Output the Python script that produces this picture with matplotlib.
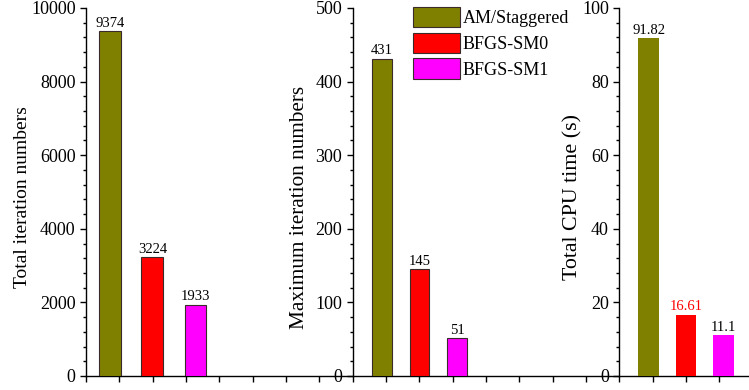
import matplotlib.pyplot as plt
import numpy as np
from matplotlib.patches import Patch
from matplotlib.ticker import MultipleLocator

plt.rcParams['font.family'] = ['Liberation Serif', 'DejaVu Serif']

methods = ['AM/Staggered', 'BFGS-SM0', 'BFGS-SM1']
colors = ['#808000', '#ff0000', '#ff00ff']

total_iters = [9374, 3224, 1933]
max_iters = [431, 145, 51]
cpu_time = [91.82, 16.61, 11.1]
cpu_labels = ['91.82', '16.61', '11.1']

W, H = 749, 390
fig = plt.figure(figsize=(W / 100, H / 100), dpi=100)

x0, y0, y1 = 86, 14, 382
rect = [x0 / W, y0 / H, 1 - x0 / W, (y1 - y0) / H]
xmax = (W - x0) / 33.33

# shared bottom axis with ticks every unit
base = fig.add_axes(rect)
base.set_xlim(0, xmax)
base.set_ylim(0, 1)
for s in ['top', 'right', 'left']:
    base.spines[s].set_visible(False)
base.spines['bottom'].set_linewidth(1.0)
base.set_xticks(np.arange(0, 20))
base.tick_params(axis='x', direction='out', length=4.5, width=1.0, labelbottom=False)
base.set_yticks([])
base.patch.set_alpha(0)


def panel(spine_x, centers, width, vals, labels, ymax, major, ylabel, lab_x, lab_y,
          lab_size, edge=True, label_colors=None):
    ax = fig.add_axes(rect)
    ax.patch.set_alpha(0)
    ax.set_xlim(0, xmax)
    ax.set_ylim(0, ymax)
    for s in ['top', 'right', 'bottom']:
        ax.spines[s].set_visible(False)
    ax.spines['left'].set_position(('data', spine_x))
    ax.spines['left'].set_linewidth(1.0)
    ax.set_xticks([])
    ax.yaxis.set_major_locator(MultipleLocator(major))
    ax.yaxis.set_minor_locator(MultipleLocator(major / 5))
    ax.tick_params(axis='y', which='major', direction='out', length=4.5, width=1.0,
                   labelsize=13, pad=3)
    ax.tick_params(axis='y', which='minor', direction='out', length=2.5, width=1.0)
    if edge:
        ax.bar(centers, vals, width=width, color=colors, edgecolor='#3a2a2a', linewidth=0.8)
    else:
        ax.bar(centers, vals, width=width, color=colors, linewidth=0)
    for i, (c, v, t) in enumerate(zip(centers, vals, labels)):
        col = label_colors[i] if label_colors else 'black'
        ax.text(c, v + ymax * 0.004, t, ha='center', va='bottom', fontsize=10.5, color=col)
    fig.text(lab_x / W, 1 - lab_y / H, ylabel, rotation=90, ha='center', va='center',
             fontsize=lab_size)
    return ax


panel(0, [0.72, 1.99, 3.29], 0.65, total_iters, [str(v) for v in total_iters],
      10000, 2000, 'Total iteration numbers', 22.5, 197, 14)
panel(8, [8.88, 10.0, 11.13], 0.58, max_iters, [str(v) for v in max_iters],
      500, 100, 'Maximum iteration numbers', 300, 207, 15.3)
panel(16, [16.88, 18.0, 19.12], 0.62, cpu_time, cpu_labels,
      100, 20, 'Total CPU time (s)', 573, 197, 15.8, edge=False,
      label_colors=['black', 'red', 'black'])

handles = [Patch(facecolor=c, edgecolor='#3a2a2a', linewidth=0.8) for c in colors]
fig.legend(handles, methods, loc='upper left', bbox_to_anchor=(413 / W, 1 - 7 / H),
           frameon=False, fontsize=13, handlelength=2.6, handleheight=1.35,
           handletextpad=0.17, labelspacing=0.3, borderpad=0, borderaxespad=0)

fig.savefig('out.png', dpi=100)
